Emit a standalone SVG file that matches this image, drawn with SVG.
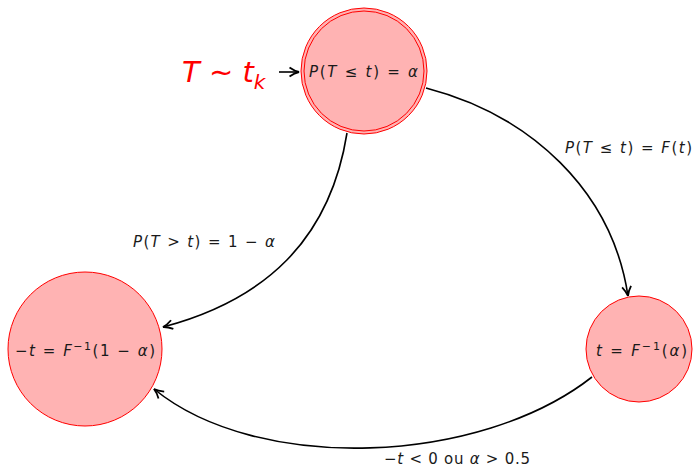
<svg xmlns="http://www.w3.org/2000/svg" width="697" height="467" viewBox="0 0 697 467">
<style>
.node{fill:#ffb3b3;stroke:#ff0000;stroke-width:1}
.edge{fill:none;stroke:#000;stroke-width:1.6}
.lbl{font-family:"DejaVu Sans",sans-serif;font-size:15px;fill:#1a1a1a}
.it{font-style:italic}
</style>
<defs>
<marker id="arrb" viewBox="0 0 12 12" refX="10.5" refY="6" markerWidth="12" markerHeight="12" markerUnits="userSpaceOnUse" orient="auto">
<path d="M1,1.5 Q6,5 10.5,6 Q6,7 1,10.5" fill="none" stroke="#000" stroke-width="1.8"/>
</marker>
</defs>
<g id="connectors">
<path class="edge" d="M279,72 L299,72" marker-end="url(#arrb)"/>
<path class="edge" d="M426,88 C530,115 612,190 628,296" marker-end="url(#arrb)"/>
<path class="edge" d="M347,133 C330,240 265,300 163,327" marker-end="url(#arrb)"/>
<path class="edge" d="M592,377 C480,465 258,474 154,389" marker-end="url(#arrb)"/>
</g>
<g id="edge-labels">
<text class="lbl" x="565" y="153" textLength="127" lengthAdjust="spacing"><tspan class="it">P</tspan>(<tspan class="it">T</tspan> ≤ <tspan class="it">t</tspan>) = <tspan class="it">F</tspan>(<tspan class="it">t</tspan>)</text>
<text class="lbl" x="133" y="247" textLength="142" lengthAdjust="spacing"><tspan class="it">P</tspan>(<tspan class="it">T</tspan> &gt; <tspan class="it">t</tspan>) = 1 − <tspan class="it">α</tspan></text>
<text class="lbl" x="384" y="464" textLength="146" lengthAdjust="spacing">−<tspan class="it">t</tspan> &lt; 0 ou <tspan class="it">α</tspan> &gt; 0.5</text>
</g>
<g id="start">
<text x="182" y="82" font-family="DejaVu Sans,sans-serif" font-size="29" fill="#ff0000"><tspan font-style="italic">T</tspan> ∼ <tspan font-style="italic">t</tspan><tspan font-style="italic" font-size="20" dy="7">k</tspan></text>
</g>
<g id="node-top">
<circle class="node" cx="364" cy="71" r="63"/>
<circle cx="364" cy="71" r="60" fill="none" stroke="#ff0000" stroke-width="1"/>
<text class="lbl" x="309" y="77" textLength="109" lengthAdjust="spacing"><tspan class="it">P</tspan>(<tspan class="it">T</tspan> ≤ <tspan class="it">t</tspan>) = <tspan class="it">α</tspan></text>
</g>
<g id="node-left">
<circle class="node" cx="85" cy="349" r="77"/>
<text class="lbl" x="15" y="356" textLength="140" lengthAdjust="spacing">−<tspan class="it">t</tspan> = <tspan class="it">F</tspan><tspan font-size="11" dy="-6">−1</tspan><tspan dy="6">(1 − </tspan><tspan class="it">α</tspan>)</text>
</g>
<g id="node-right">
<circle class="node" cx="639" cy="349" r="53"/>
<text class="lbl" x="596" y="356" textLength="91" lengthAdjust="spacing"><tspan class="it">t</tspan> = <tspan class="it">F</tspan><tspan font-size="11" dy="-6">−1</tspan><tspan dy="6">(</tspan><tspan class="it">α</tspan>)</text>
</g>
</svg>
